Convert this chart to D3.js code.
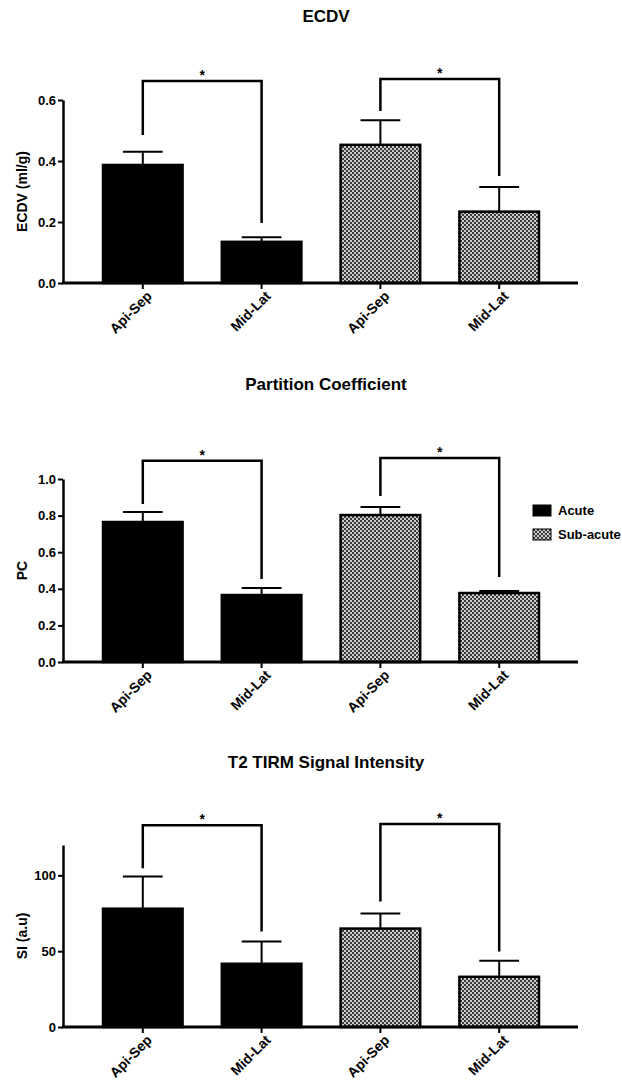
<!DOCTYPE html>
<html>
<head>
<meta charset="utf-8">
<script src="https://cdn.jsdelivr.net/npm/d3@7"></script>
<style>
  body { margin: 0; background: #fff; }
  svg text { font-family: "Liberation Sans", Arial, sans-serif; font-weight: bold; }
</style>
</head>
<body>
<div id="chart"></div>
<script>
// categories
let groups = ["Acute", "Sub-acute"];
let xLabels = ["Api-Sep", "Mid-Lat", "Api-Sep", "Mid-Lat"];
let barGroup = [0, 0, 1, 1];

// ECDV
let ecdvMean = [0.387, 0.135, 0.453, 0.234];
let ecdvErr  = [0.043, 0.015, 0.081, 0.081];
let ecdvTicks = [0, 0.2, 0.4, 0.6];
// Partition coefficient
let pcMean = [0.765, 0.366, 0.803, 0.377];
let pcErr  = [0.055, 0.038, 0.044, 0.011];
let pcTicks = [0, 0.2, 0.4, 0.6, 0.8, 1.0];
// T2 TIRM signal intensity
let siMean = [78, 41.7, 64.9, 33.1];
let siErr  = [21.3, 14.6, 9.9, 10.6];
let siTicks = [0, 50, 100];

// significance brackets: [from, to, top, left leg end, right leg end]
let ecdvSig = [[0, 1, 0.662, 0.485, 0.197], [2, 3, 0.669, 0.564, 0.351]];
let pcSig   = [[0, 1, 1.10, 0.863, 0.454], [2, 3, 1.115, 0.907, 0.464]];
let siSig   = [[0, 1, 133, 104.6, 62.9], [2, 3, 133.8, 82.8, 49.7]];

let larg = 622;
let alt = 1080;

let canvas = d3.select("#chart")
                .append("svg")
                .attr("width", larg)
                .attr("height", alt);

// checker pattern for sub-acute
let defs = canvas.append("defs");
let pat = defs.append("pattern")
                .attr("id", "checker")
                .attr("width", 4)
                .attr("height", 4)
                .attr("patternUnits", "userSpaceOnUse");
pat.append("rect").attr("width", 4).attr("height", 4).attr("fill", "#cccccc");
pat.append("rect").attr("width", 2).attr("height", 2).attr("fill", "#3a3a3a");
pat.append("rect").attr("x", 2).attr("y", 2).attr("width", 2).attr("height", 2).attr("fill", "#3a3a3a");

let fills = ["#000", "url(#checker)"];

let x = d3.scaleBand()
            .domain(d3.range(xLabels.length))
            .range([103, 539])
            .paddingInner(0.33)
            .paddingOuter(0);

function painel(title, yLabel, titleY, y0, y1, domainMax, ticks, fmt, mean, err, sig) {
    let y = d3.scaleLinear()
                .domain([0, domainMax])
                .range([y0, y1]);

    canvas.append("text")
        .attr("x", 326)
        .attr("y", titleY)
        .attr("text-anchor", "middle")
        .attr("font-size", "17px")
        .text(title);

    canvas.append("text")
        .attr("transform", "translate(27," + ((y0 + y1) / 2) + ") rotate(-90)")
        .attr("text-anchor", "middle")
        .attr("font-size", "14px")
        .text(yLabel);

    // bars
    canvas.append("g")
        .selectAll("rect")
        .data(mean)
        .enter()
        .append("rect")
        .attr("x", (d, i) => x(i))
        .attr("y", d => y(d))
        .attr("width", x.bandwidth())
        .attr("height", d => y0 - y(d))
        .attr("fill", (d, i) => fills[barGroup[i]])
        .attr("stroke", "#000")
        .attr("stroke-width", 2.5);

    // error bars (upper only)
    let eb = canvas.append("g")
        .attr("stroke", "#000")
        .attr("stroke-width", 2);
    eb.selectAll("line.v")
        .data(mean)
        .enter()
        .append("line")
        .attr("x1", (d, i) => x(i) + x.bandwidth() / 2)
        .attr("x2", (d, i) => x(i) + x.bandwidth() / 2)
        .attr("y1", d => y(d))
        .attr("y2", (d, i) => y(d + err[i]));
    eb.selectAll("line.c")
        .data(mean)
        .enter()
        .append("line")
        .attr("x1", (d, i) => x(i) + x.bandwidth() / 4)
        .attr("x2", (d, i) => x(i) + x.bandwidth() * 3 / 4)
        .attr("y1", (d, i) => y(d + err[i]))
        .attr("y2", (d, i) => y(d + err[i]));

    // y axis
    let yAxis = d3.axisLeft(y)
                    .tickValues(ticks)
                    .tickFormat(fmt)
                    .tickSize(5)
                    .tickSizeOuter(0);
    let gy = canvas.append("g")
        .attr("transform", "translate(63,0)")
        .call(yAxis);
    gy.select(".domain").attr("stroke-width", 2.5);
    gy.selectAll(".tick line").attr("stroke-width", 2);
    gy.selectAll(".tick text")
        .attr("font-size", "13px")
        .attr("font-family", "'Liberation Sans', Arial, sans-serif")
        .attr("font-weight", "bold")
        .attr("x", -7);

    // x axis
    let xAxis = d3.axisBottom(x)
                    .tickFormat(i => xLabels[i])
                    .tickSize(6)
                    .tickSizeOuter(0);
    let gx = canvas.append("g")
        .attr("transform", "translate(0," + y0 + ")")
        .call(xAxis);
    gx.select(".domain").remove();
    gx.append("line")
        .attr("x1", 62)
        .attr("x2", 578)
        .attr("stroke", "#000")
        .attr("stroke-width", 3);
    gx.selectAll(".tick line").attr("stroke-width", 2);
    gx.selectAll(".tick text")
        .attr("font-size", "14px")
        .attr("font-family", "'Liberation Sans', Arial, sans-serif")
        .attr("font-weight", "bold")
        .attr("text-anchor", "end")
        .attr("dy", 0)
        .attr("y", 0)
        .attr("transform", "translate(10,14) rotate(-45)");

    // significance brackets
    let sg = canvas.append("g");
    sig.forEach(s => {
        let xa = x(s[0]) + x.bandwidth() / 2;
        let xb = x(s[1]) + x.bandwidth() / 2;
        sg.append("path")
            .attr("d", "M" + xa + "," + y(s[3]) + "V" + y(s[2]) + "H" + xb + "V" + y(s[4]))
            .attr("fill", "none")
            .attr("stroke", "#000")
            .attr("stroke-width", 2.5);
        sg.append("text")
            .attr("x", (xa + xb) / 2)
            .attr("y", y(s[2]) - 1)
            .attr("text-anchor", "middle")
            .attr("font-size", "14px")
            .text("*");
    });
}

painel("ECDV", "ECDV (ml/g)", 22, 283, 100, 0.6, ecdvTicks, d3.format(".1f"), ecdvMean, ecdvErr, ecdvSig);
painel("Partition Coefficient", "PC", 390, 662, 479, 1.0, pcTicks, d3.format(".1f"), pcMean, pcErr, pcSig);
painel("T2 TIRM Signal Intensity", "SI (a.u)", 768, 1027, 845, 120, siTicks, d3.format("d"), siMean, siErr, siSig);

// legend
let leg = canvas.append("g")
            .attr("transform", "translate(533,505)");
leg.selectAll("rect")
    .data(groups)
    .enter()
    .append("rect")
    .attr("x", 0)
    .attr("y", (d, i) => i * 24)
    .attr("width", 18)
    .attr("height", 11)
    .attr("fill", (d, i) => fills[i])
    .attr("stroke", "#000")
    .attr("stroke-width", 1);
leg.selectAll("text")
    .data(groups)
    .enter()
    .append("text")
    .attr("x", 25)
    .attr("y", (d, i) => i * 24 + 10)
    .attr("font-size", "13px")
    .text(d => d);
</script>
</body>
</html>
